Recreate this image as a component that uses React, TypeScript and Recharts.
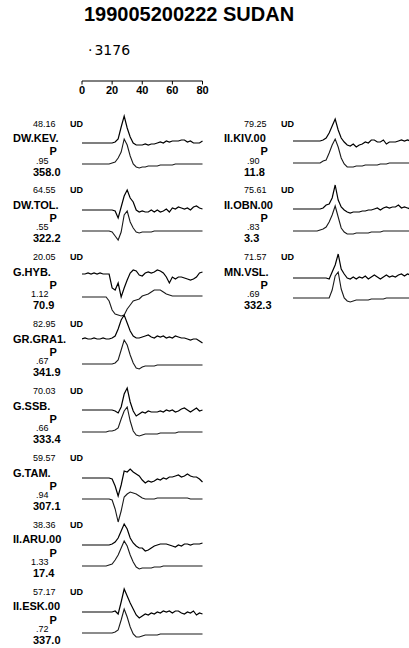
import React from "react";
import { LineChart, Line, XAxis, YAxis } from "recharts";

// time axis (s) and scale bar ticks
const TIME = [0, 2, 4, 6, 8, 10, 12, 14, 16, 18, 20, 22, 24, 26, 28, 30, 32, 34, 36, 38, 40, 42, 44, 46, 48, 50, 52, 54, 56, 58, 60, 62, 64, 66, 68, 70, 72, 74, 76, 78, 80];
const SCALE_TICKS = [0, 20, 40, 60, 80];

const TITLE = "199005200222 SUDAN";
const EVENT_DEPTH = "3176";

const stationCodes = ["DW.KEV.", "DW.TOL.", "G.HYB.", "GR.GRA1.", "G.SSB.", "G.TAM.", "II.ARU.00", "II.ESK.00", "II.KIV.00", "II.OBN.00", "MN.VSL."];
const distances = ["48.16", "64.55", "20.05", "82.95", "70.03", "59.57", "38.36", "57.17", "79.25", "75.61", "71.57"];
const ratios = [".95", ".55", "1.12", ".67", ".66", ".94", "1.33", ".72", ".90", ".83", ".69"];
const azimuths = ["358.0", "322.2", "70.9", "341.9", "333.4", "307.1", "17.4", "337.0", "11.8", "3.3", "332.3"];

// observed (UD) and synthetic traces, sampled every 2 s
const obsKEV = [0, 0, 0, 0, 0, 0, 0, 0, 0, 0, 0, 1, 4, 16, 27, 15, 6, 0, -2, -2, -2, -1, -2, -1, -1, 0, 1, 0, 2, 1, 2, 2, 2, 3, 3, 1, 2, 0, 0, 0, 2];
const synKEV = [0, 0, 0, 0, 0, 0, 0, 0, 0, 0, 1, 2, 6, 12, 25, 19, 8, 0, -3, -4, -3, -3, -2, -2, -2, -2, -1, -1, -1, -1, -1, 0, 0, 0, 0, 0, 0, 0, 0, 0, 0];
const obsTOL = [0, 0, 0, 0, 0, 0, 0, 0, 0, 0, 0, -1, -8, 3, 14, 20, 12, 8, 0, -2, -1, -2, -2, 0, -2, 0, -2, -1, 1, -2, 2, 1, 3, 2, 1, 2, 0, 3, 4, 2, 1];
const synTOL = [0, 0, 0, 0, 0, 0, 0, 0, 0, 0, -1, -5, -9, -1, 16, 20, 9, 3, -1, -2, -1, -1, -1, -1, 0, 0, 0, 0, 0, 0, 0, 0, 0, 0, 0, 0, 0, 0, 0, 0, 0];
const obsHYB = [0, 0, 1, 0, 1, 0, 1, 0, 0, 0, -14, -16, -9, -23, -14, -6, 1, 4, 3, -1, -2, 1, 2, 1, 2, 4, 3, 1, -3, -9, -3, -5, -3, -3, -4, -5, -6, -5, -3, 1, 2];
const synHYB = [0, 0, 0, 0, 0, 0, 0, 0, 0, -4, -13, -17, -18, -19, -18, -12, -8, -4, -3, -2, 1, 2, 3, 5, 7, 7, 7, 5, 3, 2, 1, 1, 1, 1, 1, 1, 1, 1, 1, 1, 1];
const obsGRA1 = [0, 1, 0, 0, 1, 0, 0, 1, 0, 0, 1, 3, 10, 19, 24, 16, 8, 3, 1, 1, 2, 3, 4, 2, 1, 3, 2, 3, 1, 2, 1, 3, 2, 1, 1, 0, -1, 0, 0, -2, -4];
const synGRA1 = [0, 0, 0, 0, 0, 0, 0, 0, 0, 0, 0, 1, 4, 14, 24, 19, 9, 1, -4, -5, -3, -2, -2, -2, -2, -1, -1, -1, -1, -1, -1, -1, -1, -1, -1, -1, -1, -1, -1, -1, -1];
const obsSSB = [0, 0, 0, 0, 0, 0, 0, 0, 0, 0, 0, -1, -3, 3, 16, 22, 8, -1, -6, -4, -2, -3, -1, -2, -2, -2, -1, -2, 0, -1, 0, -2, -1, 1, 2, 0, -2, 0, 2, -1, 0];
const synSSB = [0, 0, 0, 0, 0, 0, 0, 0, 0, 1, 1, 2, 4, 13, 21, 25, 11, 1, -3, -4, -3, -2, -2, -2, -2, -2, -1, -1, -1, -1, -1, -1, 0, 0, 0, 0, 0, 0, 0, 0, 0];
const obsTAM = [0, 0, 0, 0, 0, 0, 0, 0, 0, 0, -1, -8, -18, -7, 7, 6, 9, 6, 4, 2, -2, -5, -3, -4, -3, -1, -2, 0, -1, 1, 1, 2, 3, 1, 2, 4, 2, 1, 1, -1, -4];
const synTAM = [0, 0, 0, 0, 0, 0, 0, 0, 0, 0, -1, -10, -23, -12, 2, 5, 7, 6, 5, 3, 1, 0, 0, 0, 0, 1, 1, 1, 1, 1, 1, 1, 1, 1, 1, 1, 0, 0, 0, 0, 0];
const obsARU = [0, 0, 0, 0, 0, 0, 0, 0, 0, 0, 1, 3, 7, 14, 21, 16, 7, 2, -1, -3, -3, -6, -5, -3, -1, 0, 1, 1, 1, 0, -1, -2, 0, -1, 1, 1, 0, 1, 1, 1, 2];
const synARU = [0, 0, 0, 0, 0, 0, 0, 0, 0, 1, 2, 6, 11, 18, 25, 20, 11, 4, -1, -3, -2, -2, -2, -2, -1, -1, -1, 0, 0, 0, 0, 0, 0, 0, 0, 0, 0, 0, 0, 0, 0];
const obsESK = [0, 0, 0, 0, 0, 0, 0, 0, 0, 0, 0, 1, -2, 10, 23, 16, 9, 3, -3, -6, -4, -2, -3, -1, -2, 0, -1, 1, 0, 1, -1, 1, 1, -1, -2, 0, -1, 1, -3, -1, -2];
const synESK = [0, 0, 0, 0, 0, 0, 0, 0, 0, 0, 0, 1, 3, 13, 24, 16, 6, -1, -4, -4, -3, -2, -2, -2, -2, -2, -1, -1, -1, -1, -1, -1, -1, -1, -1, -1, -1, -1, -1, -1, -1];
const obsKIV = [0, 0, 0, 0, 0, 0, 0, 0, 0, 0, 1, 3, 8, 15, 22, 11, 3, -1, -4, -5, -3, -6, -4, -3, -1, -2, 1, 1, -1, -1, 1, -3, -1, -1, -1, 0, 1, 0, 1, 0, 0];
const synKIV = [0, 0, 0, 0, 0, 0, 0, 0, 0, 0, 2, 3, 10, 18, 24, 16, 5, -1, -4, -4, -4, -3, -3, -3, -2, -2, -2, -2, -2, -1, -1, -1, 0, 0, 0, 0, 0, 0, 0, 0, 0];
const obsOBN = [0, 0, 0, 0, 0, 0, 0, 0, 0, 0, 1, 4, 5, 11, 24, 9, 2, -1, -3, -4, -3, -3, -3, -2, -2, -1, -1, 0, 1, -1, 1, 2, 1, 2, 2, 4, 1, 2, 1, 0, 0];
const synOBN = [0, 0, 0, 0, 0, 0, 0, 0, 0, 1, 2, 4, 9, 16, 25, 14, 3, -1, -3, -3, -3, -2, -2, -2, -2, -2, -1, -1, -1, -1, 0, 0, 0, 0, 0, 0, 0, 0, 0, 0, 0];
const obsVSL = [0, 0, 0, 0, 0, 0, 0, 0, 0, 0, 0, 0, -1, 6, 13, 24, 9, 4, 0, -1, 1, -1, 1, 0, 2, -1, 1, 3, 1, -1, 1, 3, 1, 2, 1, 3, 4, 2, 4, 3, 3];
const synVSL = [0, 0, 0, 0, 0, 0, 0, 0, 0, 0, 0, 0, 0, 8, 22, 26, 9, 0, -3, -4, -3, -2, -2, -2, -2, -2, -1, -1, -1, -1, -1, 0, 0, 0, 0, 0, 0, 0, 0, 0, 0];

const observed = [obsKEV, obsTOL, obsHYB, obsGRA1, obsSSB, obsTAM, obsARU, obsESK, obsKIV, obsOBN, obsVSL];
const synthetic = [synKEV, synTOL, synHYB, synGRA1, synSSB, synTAM, synARU, synESK, synKIV, synOBN, synVSL];

// layout (pixels)
const column = [0, 0, 0, 0, 0, 0, 0, 0, 1, 1, 1];
const rowIndex = [0, 1, 2, 3, 4, 5, 6, 7, 0, 1, 2];
const obsBase = [143, 210, 274, 339, 410, 477.5, 545, 611.5, 141, 209, 277.5];
const synBase = [163.5, 231, 297, 364, 432, 499, 566, 632.5, 163, 231, 297.5];
const COL_DX = 211;
const ROW_Y0 = 124;
const ROW_STEP = 66.9;
const TRACE_X = 82;
const TRACE_W = 120.5;
const HALF = 35;

const FONT = "'Liberation Sans', Arial, Helvetica, sans-serif";

const toRows = (vals: number[]) => TIME.map((t, i) => ({ t, v: vals[i] }));

function Txt({ x, cy, size, bold, children, w, align, family }: any) {
  return (
    <div
      style={{
        position: "absolute",
        left: x,
        top: cy - size * 0.5,
        width: w,
        textAlign: align || "left",
        fontFamily: family || FONT,
        fontSize: size,
        lineHeight: `${size}px`,
        fontWeight: bold ? 700 : 400,
        color: "#000",
        whiteSpace: "nowrap",
      }}
    >
      {children}
    </div>
  );
}

function Trace({ values, x, base, color, width }: any) {
  return (
    <div style={{ position: "absolute", left: x, top: base - HALF }}>
      <LineChart width={TRACE_W} height={HALF * 2} data={toRows(values)} margin={{ top: 0, right: 0, bottom: 0, left: 0 }}>
        <XAxis dataKey="t" type="number" domain={[0, 80]} hide />
        <YAxis type="number" domain={[-HALF, HALF]} hide />
        <Line type="linear" dataKey="v" stroke={color} strokeWidth={width} dot={false} isAnimationActive={false} />
      </LineChart>
    </div>
  );
}

export default function App() {
  return (
    <div style={{ position: "fixed", left: 0, top: 0, width: 409, height: 648, overflow: "hidden", background: "#fff" }}>
      <Txt x={0} w={378} align="center" cy={14} size={20} bold>
        {TITLE}
      </Txt>
      <Txt x={88} cy={50} size={14} family="'DejaVu Sans', sans-serif">
        <span style={{ marginRight: 2 }}>·</span>
        {EVENT_DEPTH}
      </Txt>

      <div style={{ position: "absolute", left: TRACE_X - 12, top: 70.5 }}>
        <LineChart
          width={TRACE_W + 24}
          height={32}
          data={SCALE_TICKS.map((t) => ({ t, v: 0 }))}
          margin={{ top: 0, right: 12, bottom: 0, left: 12 }}
        >
          <XAxis
            dataKey="t"
            type="number"
            domain={[0, 80]}
            ticks={SCALE_TICKS}
            height={22}
            tickSize={3.5}
            tickMargin={1.5}
            stroke="#000"
            tick={{ fill: "#000", fontSize: 11, fontWeight: 700, fontFamily: FONT }}
          />
          <YAxis hide domain={[0, 1]} />
          <Line dataKey="v" stroke="none" dot={false} isAnimationActive={false} />
        </LineChart>
      </div>

      {stationCodes.map((code, i) => {
        const dx = column[i] * COL_DX;
        const row = ROW_Y0 + ROW_STEP * rowIndex[i];
        return (
          <React.Fragment key={code}>
            <Txt x={33 + dx} cy={row} size={9}>
              {distances[i]}
            </Txt>
            <Txt x={70 + dx} cy={row} size={9} bold>
              UD
            </Txt>
            <Txt x={13 + dx} cy={row + 14.5} size={11} bold>
              {code}
            </Txt>
            <Txt x={13 + dx} w={35.5} align="right" cy={row + 37} size={9}>
              {ratios[i]}
            </Txt>
            <Txt x={49.5 + dx} cy={row + 27.8} size={11} bold>
              P
            </Txt>
            <Txt x={33 + dx} cy={row + 48} size={11} bold>
              {azimuths[i]}
            </Txt>
            <Trace values={observed[i]} x={TRACE_X + dx} base={obsBase[i]} color="#000" width={1.2} />
            <Trace values={synthetic[i]} x={TRACE_X + dx} base={synBase[i]} color="#1a1a1a" width={1.1} />
          </React.Fragment>
        );
      })}
    </div>
  );
}
